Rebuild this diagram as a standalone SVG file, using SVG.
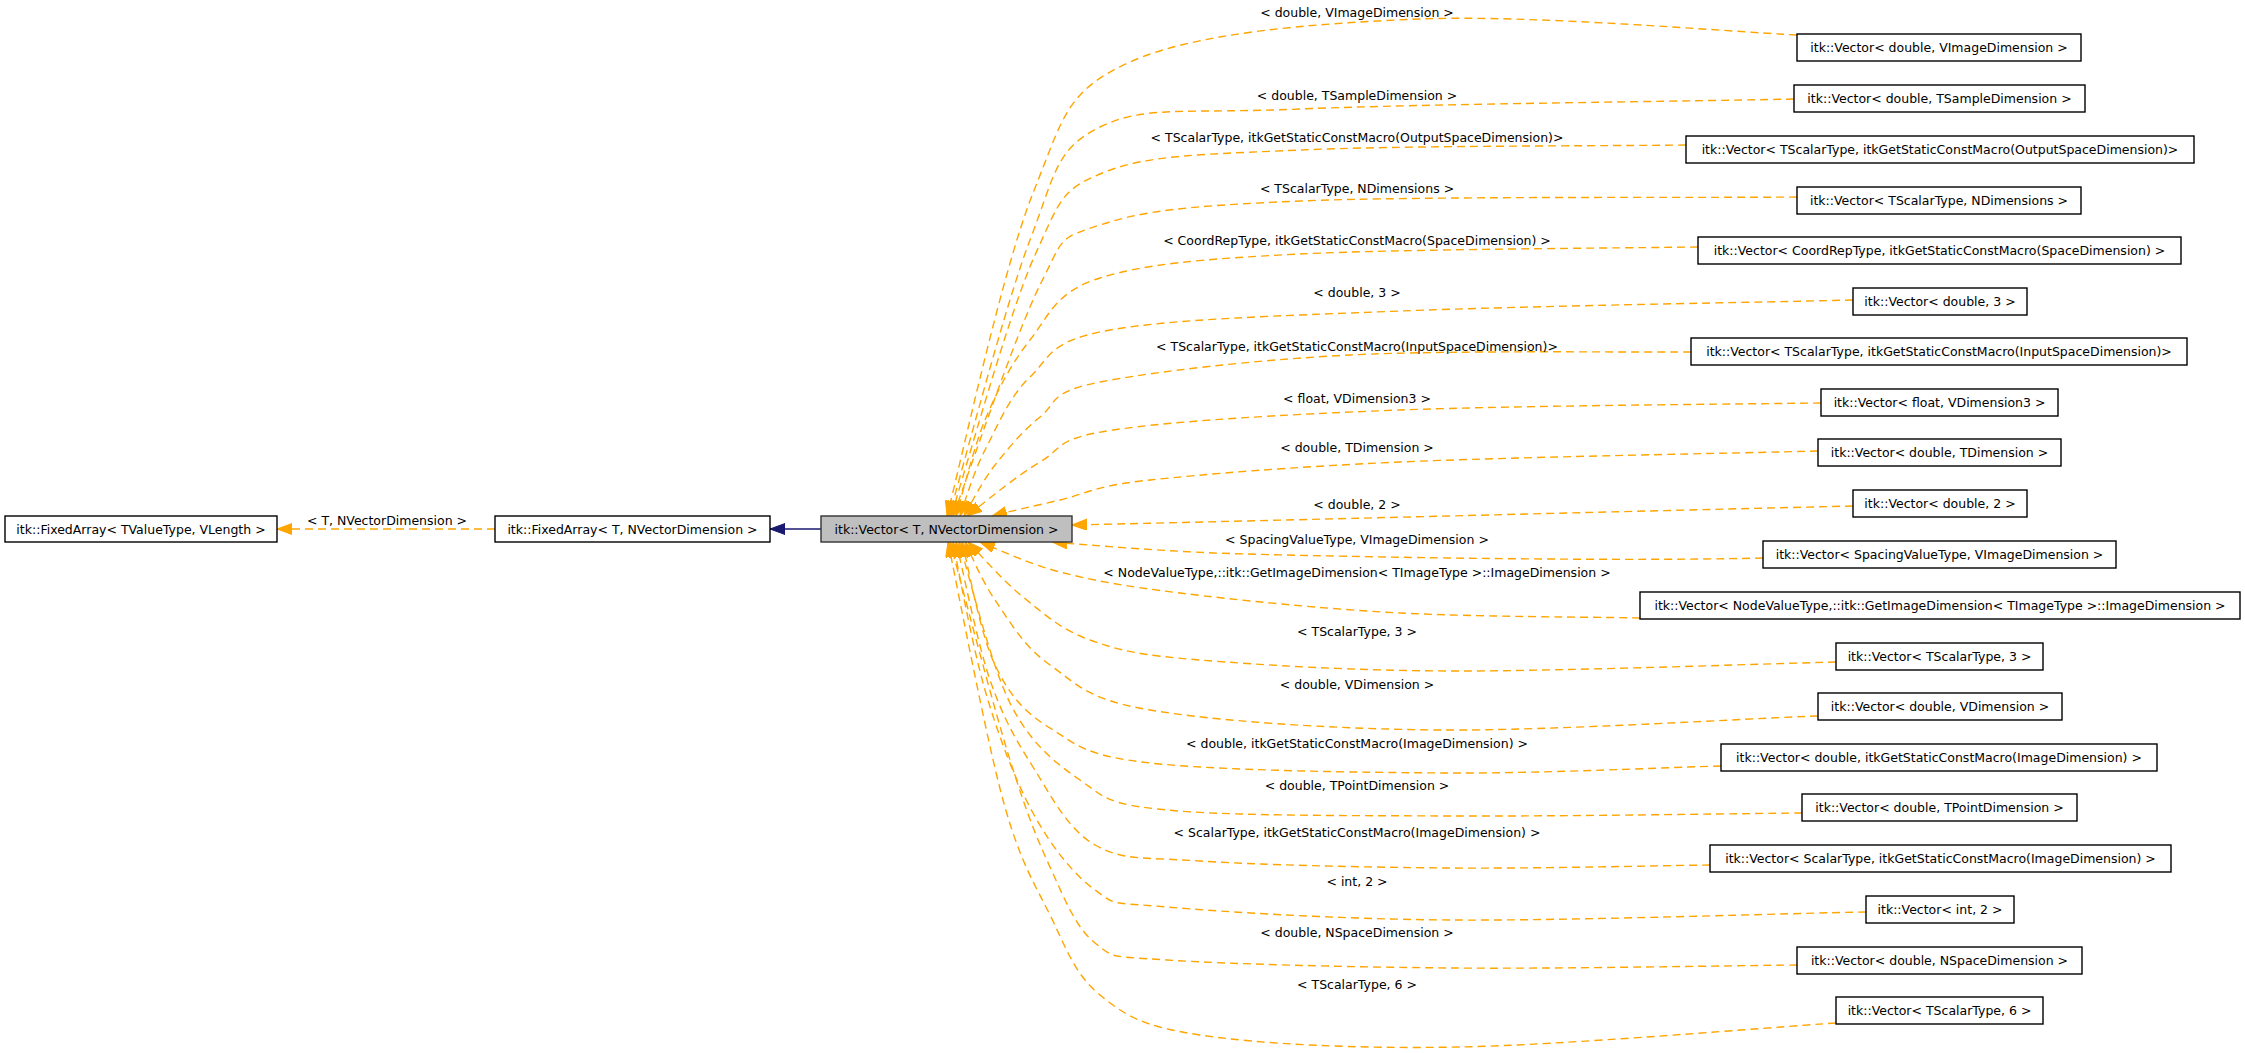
<svg xmlns="http://www.w3.org/2000/svg" width="2245" height="1053" viewBox="0 0 2245 1053">
<style>
.n rect{fill:#fff;stroke:#000;stroke-width:1.4}
.n.main rect{fill:#bfbfbf;stroke:#333}
text{font-family:"DejaVu Sans","Noto Sans",sans-serif;font-size:12.5px;fill:#000;text-anchor:middle}
.e{fill:none;stroke:#ffa500;stroke-width:1.4;stroke-dasharray:8,5;marker-end:url(#ao)}
.s{fill:none;stroke:#191970;stroke-width:1.4;marker-end:url(#an)}
</style>
<defs>
<marker id="ao" markerUnits="userSpaceOnUse" markerWidth="16" markerHeight="12" refX="15" refY="5.5" orient="auto"><path d="M0,0 L15,5.5 L0,11 z" fill="#ffa500" stroke="#ffa500"/></marker>
<marker id="an" markerUnits="userSpaceOnUse" markerWidth="16" markerHeight="12" refX="15" refY="5.5" orient="auto"><path d="M0,0 L15,5.5 L0,11 z" fill="#191970" stroke="#191970"/></marker>
</defs>
<rect width="2245" height="1053" fill="#fff"/>
<g id="edges">
<path class="s" d="M821,529 L770,529"/>
<path class="e" d="M495,529 L277,529"/>
<text x="387" y="525">&lt; T, NVectorDimension &gt;</text>
<path class="e" d="M1797,35 C1734,32 1531,14.5 1420,19 C1309,23.5 1194.5,33 1130,62 C1065.5,91 1063.5,117 1033,193 C1002.5,269 961,462 947,516"/>
<path class="e" d="M1794,99 C1712,101 1416,104 1300,109 C1184,114 1145,105 1100,127 C1055,149 1055,175 1030,240 C1005,305 962.5,470 949,516"/>
<path class="e" d="M1686,145 C1622,146 1397,145.5 1300,150 C1203,154.5 1149,154.5 1105,172 C1061,189.5 1061,198 1035,255 C1009,312 965,472.5 951,516"/>
<path class="e" d="M1797,197 C1714,198 1416,196 1300,201 C1184,206 1143,211 1100,225 C1057,239 1064.5,236.5 1040,285 C1015.5,333.5 967.5,477.5 953,516"/>
<path class="e" d="M1698,247 C1632,248 1400,249 1300,254 C1200,259 1145,264 1100,278 C1055,292 1049,316 1030,340 C1011,364 997,391 985,420 C973,449 961,500 956,516"/>
<path class="e" d="M1853,300 C1777.5,302 1524,306 1400,311 C1276,316 1172,319 1110,330 C1048,341 1051,357 1030,377 C1009,397 997,427 985,450 C973,473 964,505 960,516"/>
<path class="e" d="M1691,352 C1634,352.5 1448.5,350 1350,355 C1251.5,360 1152,372 1100,382 C1048,392 1057.5,403 1040,417 C1022.5,431 1008,448.5 995,465 C982,481.5 969,507.5 964,516"/>
<path class="e" d="M1821,403 C1751,404 1518,405.5 1400,410 C1282,414.5 1173,421 1113,430 C1053,439 1064,448 1040,462 C1016,476 979,507 967,516"/>
<path class="e" d="M1818,451 C1748,453 1511,457 1400,462 C1289,467 1207,474 1150,480 C1093,486 1086,494 1060,500 C1034,506 1003,513 992,516"/>
<path class="e" d="M1853,506 C1600,512 1300,520 1072,525"/>
<path class="e" d="M1763,558 C1600,562 1300,556 1213,553 C1150,550 1100,546 1052,542"/>
<path class="e" d="M1640,618 C1600,617 1477,617 1400,613 C1323,609 1237,600 1180,593 C1123,586 1093,580.5 1060,572 C1027,563.5 993,547 980,542"/>
<path class="e" d="M1836,662 C1773,663.5 1566,671 1460,671 C1354,671 1262,665 1200,660 C1138,655 1119.5,650.5 1090,640 C1060.5,629.5 1043,613 1023,597 C1003,581 977,551 968,542"/>
<path class="e" d="M1818,716 C1755,718 1551,731 1440,730 C1329,729 1215,721 1150,710 C1085,699 1076,683 1050,665 C1024,647 1009,620.5 995,600 C981,579.5 970,552 965,542"/>
<path class="e" d="M1721,766 C1676,767 1545,773.5 1450,773 C1355,772.5 1217,770.5 1150,763 C1083,755.5 1076,744 1050,728 C1024,712 1010,696 995,665 C980,634 967.5,562.5 962,542"/>
<path class="e" d="M1802,813 C1743,813.5 1556,816.5 1450,816 C1344,815.5 1229,816 1167,810 C1105,804 1106,798 1080,780 C1054,762 1030,743 1010,703 C990,663 967.5,569 959,542"/>
<path class="e" d="M1710,865 C1667,865.5 1535,868.7 1450,868 C1365,867.3 1259,865 1200,861 C1141,857 1123,860.7 1095,845 C1067,829 1050.5,794.5 1033,767 C1015.5,739.5 1003,717.5 990,680 C977,642.5 962,565 956,542"/>
<path class="e" d="M1866,912 C1797,913 1566.5,921 1450,920 C1333.5,919 1226,912 1167,907 C1108,902 1117,906 1095,890 C1073,874 1051,846 1033,813 C1015,780 998,735 985,690 C972,645 958,567 953,542"/>
<path class="e" d="M1797,965 C1739,965.5 1555,969 1450,968 C1345,967 1226,964 1167,960 C1108,956 1114.5,958.5 1095,943 C1075.5,927.5 1064,897.5 1050,867 C1036,836.5 1027,814 1010,760 C993,706 960,578 950,542"/>
<path class="e" d="M1836,1023 C1773,1027 1566,1045 1460,1047 C1354,1049 1260,1044 1200,1035 C1140,1026 1125,1015 1100,995 C1075,975 1066,947.5 1050,915 C1034,882.5 1020,862 1003,800 C986,738 957,585 948,542"/>
<text x="1357" y="17">&lt; double, VImageDimension &gt;</text>
<text x="1357" y="99.5">&lt; double, TSampleDimension &gt;</text>
<text x="1357" y="141.5">&lt; TScalarType, itkGetStaticConstMacro(OutputSpaceDimension)&gt;</text>
<text x="1357" y="192.5">&lt; TScalarType, NDimensions &gt;</text>
<text x="1357" y="244.5">&lt; CoordRepType, itkGetStaticConstMacro(SpaceDimension) &gt;</text>
<text x="1357" y="296.5">&lt; double, 3 &gt;</text>
<text x="1357" y="351">&lt; TScalarType, itkGetStaticConstMacro(InputSpaceDimension)&gt;</text>
<text x="1357" y="402.5">&lt; float, VDimension3 &gt;</text>
<text x="1357" y="451.5">&lt; double, TDimension &gt;</text>
<text x="1357" y="508.5">&lt; double, 2 &gt;</text>
<text x="1357" y="543.5">&lt; SpacingValueType, VImageDimension &gt;</text>
<text x="1357" y="576.5">&lt; NodeValueType,::itk::GetImageDimension&lt; TImageType &gt;::ImageDimension &gt;</text>
<text x="1357" y="635.5">&lt; TScalarType, 3 &gt;</text>
<text x="1357" y="688.5">&lt; double, VDimension &gt;</text>
<text x="1357" y="747.5">&lt; double, itkGetStaticConstMacro(ImageDimension) &gt;</text>
<text x="1357" y="789.5">&lt; double, TPointDimension &gt;</text>
<text x="1357" y="836.5">&lt; ScalarType, itkGetStaticConstMacro(ImageDimension) &gt;</text>
<text x="1357" y="885.5">&lt; int, 2 &gt;</text>
<text x="1357" y="936.5">&lt; double, NSpaceDimension &gt;</text>
<text x="1357" y="988.5">&lt; TScalarType, 6 &gt;</text>
</g>
<g id="n-fixedarray-tvaluetype" class="n"><rect x="5" y="516" width="272" height="26"/><text x="141" y="533.5">itk::FixedArray&lt; TValueType, VLength &gt;</text></g>
<g id="n-fixedarray-t" class="n"><rect x="495" y="516" width="275" height="26"/><text x="632.5" y="533.5">itk::FixedArray&lt; T, NVectorDimension &gt;</text></g>
<g id="n-vector-main" class="n main"><rect x="821" y="516" width="251" height="26"/><text x="946.5" y="533.5">itk::Vector&lt; T, NVectorDimension &gt;</text></g>
<g id="n1" class="n"><rect x="1797" y="34" width="284" height="27"/><text x="1939" y="52">itk::Vector&lt; double, VImageDimension &gt;</text></g>
<g id="n2" class="n"><rect x="1794" y="85" width="291" height="27"/><text x="1939.5" y="103">itk::Vector&lt; double, TSampleDimension &gt;</text></g>
<g id="n3" class="n"><rect x="1686" y="136" width="508" height="27"/><text x="1940" y="154">itk::Vector&lt; TScalarType, itkGetStaticConstMacro(OutputSpaceDimension)&gt;</text></g>
<g id="n4" class="n"><rect x="1797" y="187" width="284" height="27"/><text x="1939" y="205">itk::Vector&lt; TScalarType, NDimensions &gt;</text></g>
<g id="n5" class="n"><rect x="1698" y="237" width="483" height="27"/><text x="1939.5" y="255">itk::Vector&lt; CoordRepType, itkGetStaticConstMacro(SpaceDimension) &gt;</text></g>
<g id="n6" class="n"><rect x="1853" y="288" width="174" height="27"/><text x="1940" y="306">itk::Vector&lt; double, 3 &gt;</text></g>
<g id="n7" class="n"><rect x="1691" y="338" width="496" height="27"/><text x="1939" y="356">itk::Vector&lt; TScalarType, itkGetStaticConstMacro(InputSpaceDimension)&gt;</text></g>
<g id="n8" class="n"><rect x="1821" y="389" width="237" height="27"/><text x="1939.5" y="407">itk::Vector&lt; float, VDimension3 &gt;</text></g>
<g id="n9" class="n"><rect x="1818" y="439" width="243" height="27"/><text x="1939.5" y="457">itk::Vector&lt; double, TDimension &gt;</text></g>
<g id="n10" class="n"><rect x="1853" y="490" width="174" height="27"/><text x="1940" y="508">itk::Vector&lt; double, 2 &gt;</text></g>
<g id="n11" class="n"><rect x="1763" y="541" width="353" height="27"/><text x="1939.5" y="559">itk::Vector&lt; SpacingValueType, VImageDimension &gt;</text></g>
<g id="n12" class="n"><rect x="1640" y="592" width="600" height="27"/><text x="1940" y="610">itk::Vector&lt; NodeValueType,::itk::GetImageDimension&lt; TImageType &gt;::ImageDimension &gt;</text></g>
<g id="n13" class="n"><rect x="1836" y="643" width="207" height="27"/><text x="1939.5" y="661">itk::Vector&lt; TScalarType, 3 &gt;</text></g>
<g id="n14" class="n"><rect x="1818" y="693" width="244" height="27"/><text x="1940" y="711">itk::Vector&lt; double, VDimension &gt;</text></g>
<g id="n15" class="n"><rect x="1721" y="744" width="436" height="27"/><text x="1939" y="762">itk::Vector&lt; double, itkGetStaticConstMacro(ImageDimension) &gt;</text></g>
<g id="n16" class="n"><rect x="1802" y="794" width="275" height="27"/><text x="1939.5" y="812">itk::Vector&lt; double, TPointDimension &gt;</text></g>
<g id="n17" class="n"><rect x="1710" y="845" width="461" height="27"/><text x="1940.5" y="863">itk::Vector&lt; ScalarType, itkGetStaticConstMacro(ImageDimension) &gt;</text></g>
<g id="n18" class="n"><rect x="1866" y="896" width="148" height="27"/><text x="1940" y="914">itk::Vector&lt; int, 2 &gt;</text></g>
<g id="n19" class="n"><rect x="1797" y="947" width="285" height="27"/><text x="1939.5" y="965">itk::Vector&lt; double, NSpaceDimension &gt;</text></g>
<g id="n20" class="n"><rect x="1836" y="997" width="207" height="27"/><text x="1939.5" y="1015">itk::Vector&lt; TScalarType, 6 &gt;</text></g>
</svg>
